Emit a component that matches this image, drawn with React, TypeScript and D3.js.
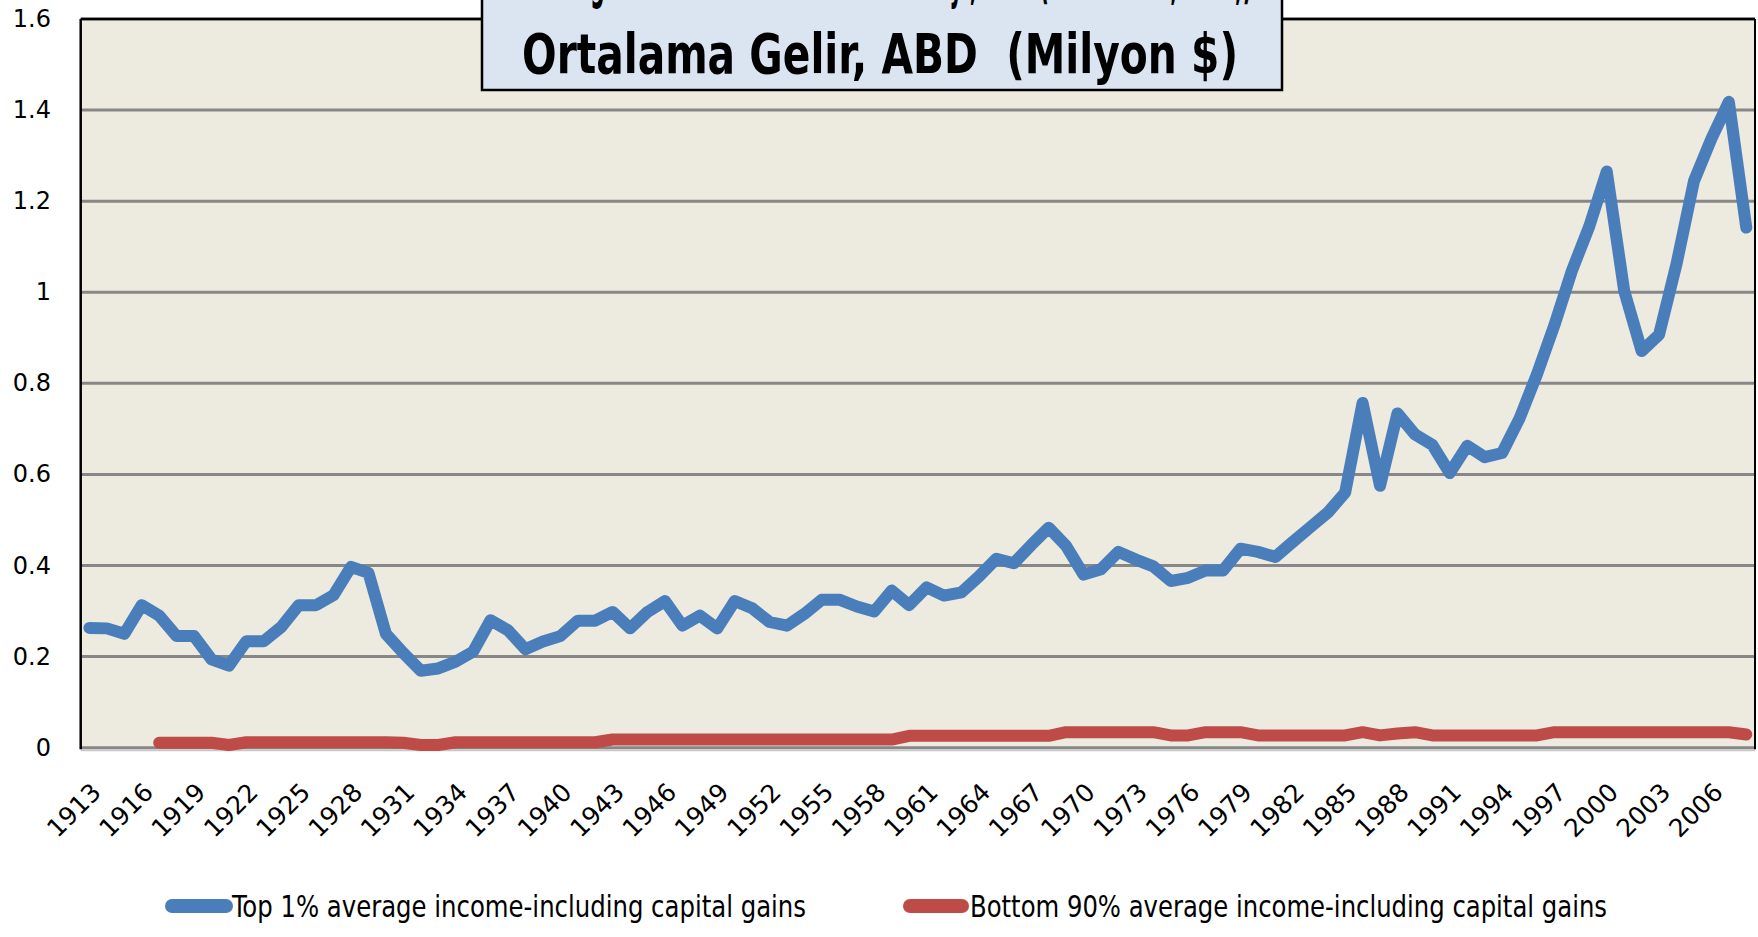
import React from "react";
import * as d3 from "d3";

const years: number[] = d3.range(1913, 2009);

const top1: number[] = [
  0.263, 0.262, 0.25, 0.313, 0.29, 0.245, 0.245, 0.194, 0.18, 0.234,
  0.234, 0.265, 0.313, 0.313, 0.335, 0.397, 0.384, 0.25, 0.208, 0.169,
  0.174, 0.189, 0.211, 0.28, 0.258, 0.216, 0.233, 0.245, 0.279, 0.279,
  0.298, 0.262, 0.298, 0.322, 0.268, 0.29, 0.262, 0.322, 0.306, 0.276,
  0.268, 0.294, 0.325, 0.325, 0.31, 0.299, 0.345, 0.313, 0.352, 0.334,
  0.341, 0.376, 0.415, 0.405, 0.445, 0.483, 0.443, 0.38, 0.392, 0.43,
  0.413, 0.398, 0.366, 0.373, 0.389, 0.389, 0.437, 0.43, 0.419, 0.452,
  0.484, 0.516, 0.56, 0.757, 0.575, 0.734, 0.688, 0.665, 0.603, 0.663,
  0.638, 0.647, 0.723, 0.82, 0.928, 1.047, 1.145, 1.265, 1.003, 0.871,
  0.907, 1.062, 1.244, 1.337, 1.418, 1.142,
];

const bottom90: (number | null)[] = [
  null, null, null, null, 0.011, 0.011, 0.011, 0.011, 0.006, 0.012,
  0.012, 0.012, 0.012, 0.012, 0.012, 0.012, 0.012, 0.012, 0.011, 0.006,
  0.006, 0.012, 0.012, 0.012, 0.012, 0.012, 0.012, 0.012, 0.012, 0.012,
  0.018, 0.018, 0.018, 0.018, 0.018, 0.018, 0.018, 0.018, 0.018, 0.018,
  0.018, 0.018, 0.018, 0.018, 0.018, 0.018, 0.018, 0.026, 0.026, 0.026,
  0.026, 0.026, 0.026, 0.026, 0.026, 0.026, 0.034, 0.034, 0.034, 0.034,
  0.034, 0.034, 0.027, 0.027, 0.034, 0.034, 0.034, 0.027, 0.027, 0.027,
  0.027, 0.027, 0.027, 0.034, 0.027, 0.031, 0.034, 0.027, 0.027, 0.027,
  0.027, 0.027, 0.027, 0.027, 0.034, 0.034, 0.034, 0.034, 0.034, 0.034,
  0.034, 0.034, 0.034, 0.034, 0.034, 0.029,
];

const yTicks: number[] = [0, 0.2, 0.4, 0.6, 0.8, 1, 1.2, 1.4, 1.6];
const xTickYears: number[] = d3.range(1913, 2007, 3);

const titleLine1 = "En Zengin %1 ve Alt %90'ın Gelir Düzeyi, ABD (1913-2008, Reel,)";
const titleLine2 = "Ortalama Gelir, ABD  (Milyon $)";
const seriesNames: string[] = [
  "Top 1% average income-including capital gains",
  "Bottom 90% average income-including capital gains",
];
const seriesColors: string[] = ["#4A7EBB", "#BE4B48"];

export default function App() {
  const W = 1758;
  const H = 937;
  const left = 80.7;
  const right = 1755;
  const top = 19;
  const bottom = 747.7;

  const x = d3.scalePoint<number>().domain(years).range([left, right]).padding(0.5);
  const y = d3.scaleLinear().domain([0, 1.6]).range([bottom, top]);

  const line = d3
    .line<number | null>()
    .defined((d) => d !== null)
    .x((_, i) => x(years[i]) as number)
    .y((d) => y(d as number));

  const narrow = "'Liberation Sans Narrow', 'Arial Narrow', 'DejaVu Sans Condensed', 'Open Sans', sans-serif";
  const axisFont = "'DejaVu Sans', Verdana, sans-serif";

  return (
    <svg
      width={W}
      height={H}
      style={{ position: "absolute", left: 0, top: 0, background: "#fff" }}
    >
      {/* plot area */}
      <rect x={left} y={top} width={right - left} height={bottom - top} fill="#EDEADF" />
      {yTicks.map((t) => (
        <line
          key={"g" + t}
          x1={left}
          x2={right}
          y1={y(t)}
          y2={y(t)}
          stroke="#878787"
          strokeWidth={3}
        />
      ))}
      <line x1={left} x2={right} y1={bottom + 2.5} y2={bottom + 2.5} stroke="#C8C8C8" strokeWidth={2} />
      {/* borders */}
      <line x1={left} x2={left} y1={top} y2={bottom + 1.5} stroke="#000" strokeWidth={2.5} />
      <line x1={left} x2={right} y1={top} y2={top} stroke="#000" strokeWidth={2.5} />
      <line x1={right} x2={right} y1={top} y2={bottom + 1.5} stroke="#000" strokeWidth={2} />

      {/* series */}
      <path d={line(top1) || ""} fill="none" stroke={seriesColors[0]} strokeWidth={12} strokeLinecap="round" strokeLinejoin="round" />
      <path d={line(bottom90) || ""} fill="none" stroke={seriesColors[1]} strokeWidth={12} strokeLinecap="round" strokeLinejoin="round" />

      {/* y labels */}
      {yTicks.map((t) => (
        <text
          key={"yl" + t}
          x={51}
          y={y(t)}
          textAnchor="end"
          dominantBaseline="central"
          fontFamily={axisFont}
          fontSize={24}
          fill="#000"
        >
          {String(t)}
        </text>
      ))}

      {/* x labels */}
      {xTickYears.map((yr) => {
        const px = x(yr) as number;
        return (
          <text
            key={"xl" + yr}
            transform={`translate(${px + 7},${bottom + 40}) rotate(-45)`}
            textAnchor="end"
            dominantBaseline="central"
            fontFamily={axisFont}
            fontSize={25}
            fill="#000"
          >
            {String(yr)}
          </text>
        );
      })}

      {/* title box */}
      <rect x={482} y={-10} width={800} height={100} fill="#DBE5F1" stroke="#000" strokeWidth={2.5} />
      <text
        x={882}
        y={-3}
        textAnchor="middle"
        fontFamily={narrow}
        fontWeight="bold"
        fontSize={55}
        textLength={740}
        lengthAdjust="spacingAndGlyphs"
        fill="#000"
        style={{ whiteSpace: "pre" }}
      >
        {titleLine1}
      </text>
      <text
        x={880}
        y={73}
        textAnchor="middle"
        fontFamily={narrow}
        fontWeight="bold"
        fontSize={55}
        textLength={716}
        lengthAdjust="spacingAndGlyphs"
        fill="#000"
        style={{ whiteSpace: "pre" }}
      >
        {titleLine2}
      </text>

      {/* legend */}
      <line x1={172} x2={226} y1={906} y2={906} stroke={seriesColors[0]} strokeWidth={14} strokeLinecap="round" />
      <text x={232} y={917} fontFamily={narrow} fontSize={31} textLength={574} lengthAdjust="spacingAndGlyphs" fill="#000">
        {seriesNames[0]}
      </text>
      <line x1={910} x2={962} y1={906} y2={906} stroke={seriesColors[1]} strokeWidth={14} strokeLinecap="round" />
      <text x={970} y={917} fontFamily={narrow} fontSize={31} textLength={637} lengthAdjust="spacingAndGlyphs" fill="#000">
        {seriesNames[1]}
      </text>
    </svg>
  );
}
